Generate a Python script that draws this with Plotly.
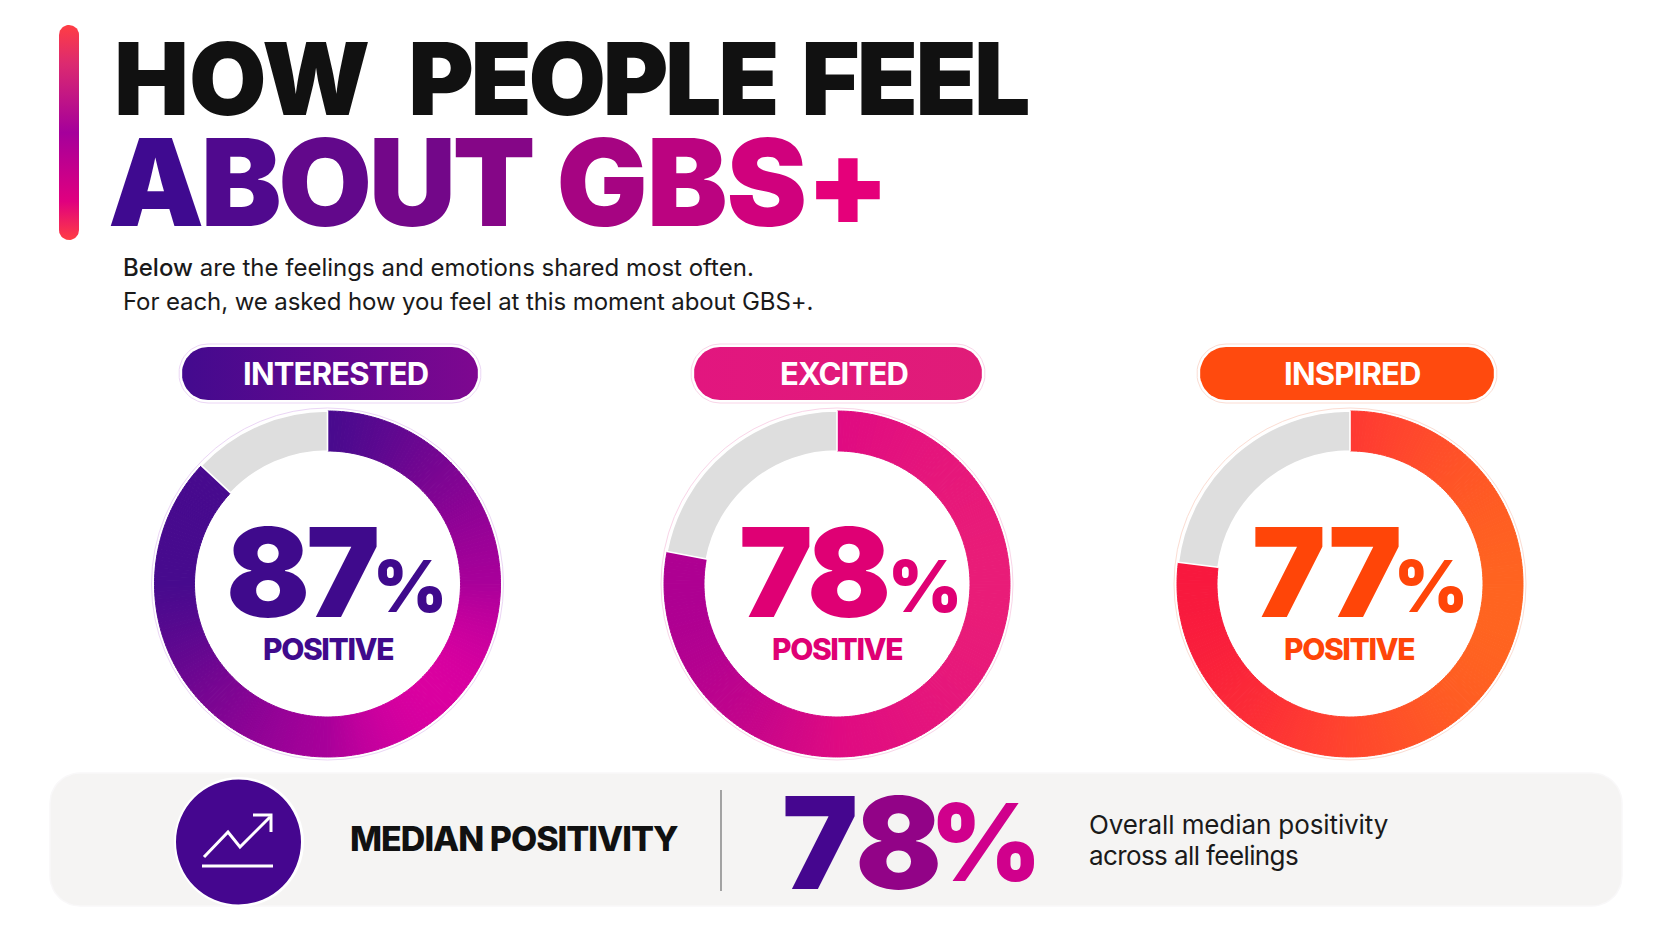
import numpy as np
import plotly.graph_objects as go

W, H = 1672, 941
FONT = "Inter"

# ---------- data ----------
feelings = ["INTERESTED", "EXCITED", "INSPIRED"]
positive = [87, 78, 77]
median_positive = 78
# ---------- text ----------
title_1_words = ["HOW", "PEOPLE", "FEEL"]
title_2_words = ["ABOUT", "GBS+"]
sub_1 = "Below are the feelings and emotions shared most often."
sub_2 = "For each, we asked how you feel at this moment about GBS+."
median_label = "MEDIAN POSITIVITY"
median_note = ["Overall median positivity", "across all feelings"]
positive_word = "POSITIVE"

# ---------- styling ----------
CENTERS = [(327.5, 584), (837, 584), (1350, 584)]
R_OUT = 173
R_IN = 133
PILLS = [(182, 478), (694, 982), (1200, 1494)]
PILL_Y = (347, 400)
# ring gradients: axis angle (deg, screen coords) and colour stops along it
RING_GRAD = [
    (45, [(0.146, "#470A8E"), (0.5, "#7A0592"), (0.85, "#A8009A"), (1.0, "#DA00A0")]),
    (0, [(0.0, "#AE0092"), (0.5, "#DF0A82"), (1.0, "#E91C78")]),
    (10, [(0.0, "#F8183E"), (0.5, "#FF3F30"), (1.0, "#FF6420")]),
]
HALO = ["#EBD6F5", "#F9D5E8", "#FBDDD3"]
PILL_COLS = [("#430A8E", "#7E0790"), ("#E2167F", "#E01C78"), ("#FF4A0E", "#FF4A0E")]
TEXT_COLS = ["#3F0A8C", "#DF0074", "#FF4508"]
GREY = "#DEDEDE"
BG = "#FFFFFF"


def hex2rgb(h):
    h = h.lstrip("#")
    return np.array([int(h[i:i + 2], 16) for i in (0, 2, 4)], float)


def stops_color(stops, t):
    pos = [s[0] for s in stops]
    rgb = np.array([hex2rgb(s[1]) for s in stops])
    c = [np.interp(t, pos, rgb[:, i]) for i in range(3)]
    return "#%02X%02X%02X" % tuple(int(round(v)) for v in c)


def mix(a, b, t):
    return stops_color([(0, a), (1, b)], t)


def rrect(x0, y0, x1, y1, r, n=14):
    xs, ys = [], []
    corners = [(x1 - r, y0 + r, -90), (x1 - r, y1 - r, 0), (x0 + r, y1 - r, 90), (x0 + r, y0 + r, 180)]
    for cx, cy, a0 in corners:
        th = np.radians(np.linspace(a0, a0 + 90, n))
        xs += list(cx + r * np.cos(th))
        ys += list(cy + r * np.sin(th))
    xs.append(xs[0])
    ys.append(ys[0])
    return xs, ys


def spaced(s, sp):
    return '<span style="letter-spacing:%.2fpx">%s</span>' % (sp, s)


def grad_chars(s, c0, c1, t0=0.0, t1=1.0, sp=0.0):
    n = max(len(s) - 1, 1)
    out = ""
    for i, ch in enumerate(s):
        col = mix(c0, c1, t0 + (t1 - t0) * i / n)
        out += '<span style="color:%s;letter-spacing:%.2fpx">%s</span>' % (col, sp, ch)
    return out


fig = go.Figure()

# left accent bar (plotly's vertical gradient runs bottom to top on this reversed axis)
xs, ys = rrect(59, 25, 79, 240, 10)
fig.add_trace(go.Scatter(
    x=xs, y=ys, mode="lines", fill="toself", line=dict(width=0, color="#FF4040"),
    fillgradient=dict(type="vertical", colorscale=[[0, "#FF3D44"], [0.18, "#E0007F"], [0.5, "#A5009B"], [0.82, "#DC2A70"], [1, "#FF3D44"]]),
    hoverinfo="skip", showlegend=False))

# pills
for (x0, x1), (c0, c1), halo in zip(PILLS, PILL_COLS, HALO):
    xs, ys = rrect(x0 - 3, PILL_Y[0] - 3, x1 + 3, PILL_Y[1] + 3, 29)
    fig.add_trace(go.Scatter(x=xs, y=ys, mode="lines", fill="toself", fillcolor="#FFFFFF",
                             line=dict(width=1, color=halo), hoverinfo="skip", showlegend=False))
    xs, ys = rrect(x0, PILL_Y[0], x1, PILL_Y[1], 26)
    fig.add_trace(go.Scatter(
        x=xs, y=ys, mode="lines", fill="toself", line=dict(width=0, color=c0),
        fillgradient=dict(type="horizontal", colorscale=[[0, c0], [1, c1]]),
        hoverinfo="skip", showlegend=False))

# median panel
xs, ys = rrect(50, 773, 1622, 906, 30)
fig.add_trace(go.Scatter(x=xs, y=ys, mode="lines", fill="toself", fillcolor="#F5F4F3",
                         line=dict(width=1.5, color="#F9F8F9"), hoverinfo="skip", showlegend=False))

shapes = []
for (cx, cy), halo in zip(CENTERS, HALO):
    shapes.append(dict(type="circle", x0=cx - R_OUT - 3, x1=cx + R_OUT + 3, y0=cy - R_OUT - 3, y1=cy + R_OUT + 3,
                       fillcolor="#FFFFFF", line=dict(color=halo, width=1), layer="below"))
shapes.append(dict(type="circle", x0=174, x1=304, y0=777, y1=907, fillcolor="#FFFFFF", line_width=0, layer="above"))
shapes.append(dict(type="circle", x0=176, x1=301, y0=779.5, y1=904.5, fillcolor="#45068F", line_width=0, layer="above"))
shapes.append(dict(type="line", x0=721, x1=721, y0=790, y1=891, line=dict(color="#8E8E8E", width=1.6), layer="above"))
shapes.append(dict(type="line", x0=202, x1=273, y0=866, y1=866, line=dict(color="#FFFFFF", width=3), layer="above"))
shapes.append(dict(type="path", path="M204,857 L228,832 L240,847 L270,817", line=dict(color="#FFFFFF", width=3), layer="above"))
shapes.append(dict(type="path", path="M253,815 L271,815 L271,832", line=dict(color="#FFFFFF", width=3), layer="above"))

# donuts: the positive share is shaded slice by slice along a linear gradient
for val, (cx, cy), (ang, stops) in zip(positive, CENTERS, RING_GRAD):
    n = 240
    step = val / n
    values = [step] * n + [100 - val]
    mids = (np.arange(n) + 0.5) * step * 3.6
    px = np.sin(np.radians(mids))
    py = -np.cos(np.radians(mids))
    d = np.array([np.cos(np.radians(ang)), np.sin(np.radians(ang))])
    t = (px * d[0] + py * d[1]) / 2 + 0.5
    cols = [stops_color(stops, v) for v in t] + [GREY]
    fig.add_trace(go.Pie(
        values=values, sort=False, direction="clockwise", rotation=0, hole=R_IN / R_OUT,
        domain=dict(x=[(cx - R_OUT) / W, (cx + R_OUT) / W], y=[1 - (cy + R_OUT) / H, 1 - (cy - R_OUT) / H]),
        marker=dict(colors=cols, line=dict(color=cols[:-1] + ["#FFFFFF"], width=[1.0] * n + [1.6])),
        textinfo="none", hoverinfo="skip", showlegend=False))

ann = []


def text(x, y, s, size, color="#111111", weight=400, anchor="left"):
    ann.append(dict(x=x, y=y, xref="x", yref="y", text=s, showarrow=False, xanchor=anchor, yanchor="middle",
                    align=anchor, font=dict(family=FONT, size=size, color=color, weight=weight)))


title_1 = (spaced(title_1_words[0], 0) + spaced(" ", 18) + spaced(title_1_words[1], -3.3)
           + spaced(" ", 5) + spaced(title_1_words[2], -2.7))
text(112, 78, title_1, 100, "#111111", 900)
title_2 = (grad_chars(title_2_words[0], "#3F0A90", "#E5007A", 0.0, 0.42, -3.4) + spaced(" ", 0)
           + grad_chars(title_2_words[1], "#3F0A90", "#E5007A", 0.62, 1.0, -1.0))
text(106, 182, title_2, 121, "#3F0A90", 900)
text(121, 267, '<span style="font-weight:500">Below</span>' + sub_1[5:], 24, "#1A1A1A", 400)
text(121, 301, spaced(sub_2, -0.1), 24, "#1A1A1A", 400)

for (x0, x1), name in zip(PILLS, feelings):
    text((x0 + x1) / 2 + 5.5, 373, spaced(name, -0.8), 31, "#FFFFFF", 700, anchor="center")

NUM_SP = [-4, -4, 0]
NUM_DX = [0, 1, 2.5]
PCT_DX = [43, 48.5, 41.5]
POS_DX = [0.5, -0.5, -1.5]
for (cx, cy), v, col, sp, dx, pdx, qdx in zip(CENTERS, positive, TEXT_COLS, NUM_SP, NUM_DX, PCT_DX, POS_DX):
    text(cx + 51 + dx, 572, spaced(str(v), sp), 124, col, 900, anchor="right")
    text(cx + pdx, 586, "%", 71, col, 900)
    text(cx + qdx, 649, spaced(positive_word, -1.4), 30, col, 800, anchor="center")

text(348, 838, spaced(median_label, -1.0), 34, "#111111", 800)
m = str(median_positive)
text(780, 842, grad_chars(m, "#45068F", "#E0007F", 0.0, 0.5, -1.0), 128, "#45068F", 900)
text(928, 842, grad_chars("%", "#D0008C", "#D0008C"), 107, "#D0008C", 900)
text(1087, 824, spaced(median_note[0], -0.1), 26, "#1A1A1A", 400)
text(1087, 855, spaced(median_note[1], -0.6), 26, "#1A1A1A", 400)

fig.update_layout(
    width=W, height=H, margin=dict(l=0, r=0, t=0, b=0),
    paper_bgcolor=BG, plot_bgcolor=BG,
    xaxis=dict(range=[0, W], visible=False, fixedrange=True),
    yaxis=dict(range=[H, 0], visible=False, fixedrange=True),
    shapes=shapes, annotations=ann, showlegend=False)

fig.write_html("out.html", config=dict(displayModeBar=False),
               post_script="document.body.style.margin='0';document.body.style.overflow='hidden';")
